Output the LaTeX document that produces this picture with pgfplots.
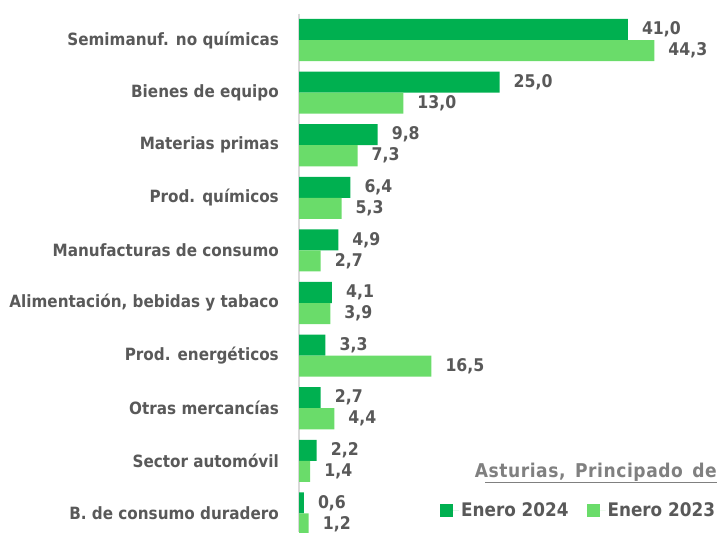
\documentclass[border=0pt]{standalone}
\usepackage{pgfplots}
\pgfplotsset{compat=1.18}
\usepackage{fontspec}
\setmainfont{DejaVu Sans Condensed}[BoldFont={DejaVu Sans Condensed Bold}]
\definecolor{dg}{HTML}{00B050}
\definecolor{lg}{HTML}{6ADC6A}
\definecolor{tg}{HTML}{595959}
\definecolor{ag}{HTML}{D9D9D9}
\definecolor{tt}{HTML}{808080}
\begin{document}
\begin{tikzpicture}
\path (0,0) rectangle (719bp,-532bp);
\begin{axis}[
  at={(299bp,-40bp)}, anchor=origin,
  xbar, x=8.02bp, y=52.6bp, y dir=reverse,
  xmin=0, xmax=52.4, ymin=-0.5, ymax=9.354,
  axis x line=none, axis y line=left,
  y axis line style={-, draw=ag, line width=1.5bp},
  xtick=\empty, ytick={0,...,9}, major tick length=0pt,
  yticklabels={Semimanuf. no químicas, Bienes de equipo, Materias primas, Prod. químicos, Manufacturas de consumo, {Alimentación, bebidas y tabaco}, Prod. energéticos, Otras mercancías, Sector automóvil, B. de consumo duradero},
  yticklabel style={font=\bfseries\fontsize{16.9bp}{20bp}\selectfont, text=tg, inner sep=0pt, xshift=-20bp},
  bar width=0.4,
  point meta=x,
  nodes near coords={\pgfmathprintnumber[fixed,fixed zerofill,precision=1,use comma,assume math mode=true]{\pgfplotspointmeta}},
  every node near coord/.append style={font=\bfseries\fontsize{17.5bp}{20bp}\selectfont, text=tg, anchor=west, inner sep=0pt, xshift=14bp, overlay},
  legend style={at={(axis description cs:0.995,0.042)}, anchor=east, draw=none, fill=none, font=\bfseries\fontsize{18.7bp}{21bp}\selectfont, text=tg, inner sep=0pt, /tikz/every even column/.append style={column sep=16bp}},
  legend columns=2,
  legend cell align=left,
  legend image code/.code={\path (0bp,0bp) -- (19bp,0bp); \fill[#1] (0bp,-6.5bp) rectangle (13bp,6.5bp);},
]
\addplot[fill=dg, draw=none, bar shift=-0.2] coordinates {(41.0,0) (25.0,1) (9.8,2) (6.4,3) (4.9,4) (4.1,5) (3.3,6) (2.7,7) (2.2,8) (0.6,9)};
\addplot[fill=lg, draw=none, bar shift=0.2] coordinates {(44.3,0) (13.0,1) (7.3,2) (5.3,3) (2.7,4) (3.9,5) (16.5,6) (4.4,7) (1.4,8) (1.2,9)};
\legend{Enero 2024, Enero 2023}
\end{axis}
\node[anchor=base east, inner sep=0pt, text=tt, font=\bfseries\fontsize{19bp}{22bp}\selectfont\addfontfeature{LetterSpace=3}] at (717bp,-477bp) {Asturias,\hspace{0.5em}Principado\hspace{0.5em}de};
\draw[tt, line width=1.3bp] (485bp,-482.5bp) -- (717bp,-482.5bp);
\end{tikzpicture}
\end{document}
